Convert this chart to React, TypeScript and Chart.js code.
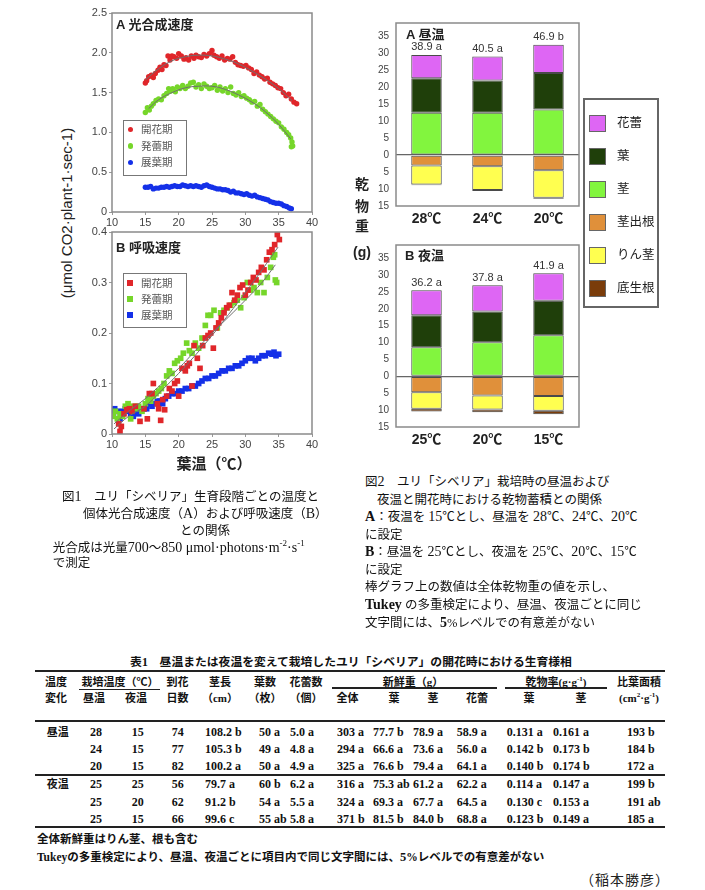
import React, { useEffect, useRef } from 'react';
import { Chart, registerables } from 'chart.js';
Chart.register(...registerables);

const SANS = '"Liberation Sans", Arial, "Noto Sans CJK JP", sans-serif';
const SERIF = '"Liberation Serif", "Times New Roman", "Noto Sans CJK JP", serif';
Chart.defaults.font.family = SANS;

// ---------- 図1 A 光合成速度 (x: 葉温, y: µmol CO2) ----------
const photoFlower = [
  [15.0, 1.62], [15.2, 1.65], [15.5, 1.70], [15.9, 1.72], [16.2, 1.69], [16.5, 1.74], [16.9, 1.78], [17.2, 1.82],
  [17.5, 1.79], [17.8, 1.85], [18.1, 1.84], [18.4, 1.96], [18.7, 1.91], [19.0, 1.96], [19.3, 1.95], [19.7, 1.93],
  [20.0, 1.99], [20.4, 1.96], [20.8, 1.92], [21.1, 1.94], [21.5, 1.91], [21.9, 1.96], [22.3, 1.93], [22.6, 1.97],
  [23.0, 1.95], [23.4, 1.94], [23.8, 1.98], [24.2, 1.96], [24.6, 1.99], [25.0, 2.03], [25.3, 1.97], [25.7, 1.95],
  [26.1, 1.93], [26.5, 1.96], [26.9, 1.91], [27.3, 1.93], [27.7, 1.92], [28.1, 1.95], [28.5, 1.88], [28.9, 1.85],
  [29.3, 1.84], [29.7, 1.83], [30.1, 1.84], [30.5, 1.81], [30.9, 1.79], [31.3, 1.74], [31.7, 1.76], [32.1, 1.72],
  [32.5, 1.70], [32.9, 1.67], [33.3, 1.68], [33.7, 1.63], [34.1, 1.61], [34.5, 1.59], [34.9, 1.56], [35.3, 1.55],
  [35.7, 1.50], [36.1, 1.46], [36.5, 1.48], [36.9, 1.42], [37.3, 1.38], [37.7, 1.36],
];
const photoBud = [
  [15.0, 1.25], [15.3, 1.31], [15.6, 1.28], [15.9, 1.33], [16.2, 1.36], [16.6, 1.40], [17.0, 1.42], [17.4, 1.41],
  [17.8, 1.46], [18.2, 1.49], [18.5, 1.55], [18.8, 1.52], [19.1, 1.55], [19.5, 1.51], [19.8, 1.57], [20.2, 1.55],
  [20.6, 1.59], [21.0, 1.55], [21.4, 1.58], [21.8, 1.62], [22.2, 1.63], [22.6, 1.57], [23.0, 1.60], [23.4, 1.55],
  [23.8, 1.61], [24.2, 1.58], [24.6, 1.55], [25.0, 1.56], [25.4, 1.59], [25.8, 1.53], [26.2, 1.57], [26.6, 1.52],
  [27.0, 1.55], [27.4, 1.50], [27.8, 1.57], [28.2, 1.49], [28.6, 1.47], [29.0, 1.50], [29.4, 1.45], [29.8, 1.46],
  [30.2, 1.43], [30.6, 1.41], [31.0, 1.38], [31.4, 1.39], [31.8, 1.33], [32.2, 1.35], [32.6, 1.29], [33.0, 1.26],
  [33.4, 1.23], [33.8, 1.20], [34.2, 1.17], [34.6, 1.14], [35.0, 1.12], [35.4, 1.07], [35.8, 1.04], [36.2, 1.00],
  [36.5, 0.97], [36.8, 0.93], [37.0, 0.88], [36.9, 0.82], [37.1, 0.83],
];
const photoLeaf = [
  [15.0, 0.31], [15.4, 0.31], [15.8, 0.32], [16.2, 0.29], [16.6, 0.30], [17.0, 0.30], [17.4, 0.31], [17.8, 0.31],
  [18.2, 0.32], [18.6, 0.31], [19.0, 0.32], [19.4, 0.33], [19.8, 0.32], [20.2, 0.32], [20.6, 0.34], [21.0, 0.33],
  [21.4, 0.32], [21.8, 0.33], [22.2, 0.32], [22.6, 0.33], [23.0, 0.32], [23.4, 0.31], [23.8, 0.33], [24.2, 0.34],
  [24.6, 0.32], [25.0, 0.31], [25.4, 0.30], [25.8, 0.29], [26.2, 0.29], [26.6, 0.28], [27.0, 0.28], [27.4, 0.27],
  [27.8, 0.25], [28.2, 0.26], [28.6, 0.24], [29.0, 0.24], [29.4, 0.23], [29.8, 0.22], [30.2, 0.23], [30.6, 0.21],
  [31.0, 0.20], [31.4, 0.21], [31.8, 0.19], [32.2, 0.18], [32.6, 0.17], [33.0, 0.16], [33.4, 0.15], [33.8, 0.13],
  [34.2, 0.12], [34.6, 0.11], [35.0, 0.11], [35.4, 0.10], [35.8, 0.08], [36.2, 0.07], [36.6, 0.05], [36.9, 0.04],
];
const photoFitFlower = [
  [15, 1.66], [17, 1.80], [19, 1.90], [21, 1.95], [23, 1.97], [25, 1.96], [27, 1.92], [29, 1.86], [31, 1.77], [33, 1.67], [35, 1.55], [37, 1.40],
];
const photoFitBud = [
  [15.5, 1.30], [17, 1.41], [19, 1.50], [21, 1.56], [23, 1.58], [25, 1.58], [27, 1.54], [29, 1.47], [31, 1.38], [33, 1.26], [35, 1.10], [36.8, 0.92],
];

// ---------- 図1 B 呼吸速度 ----------
const respFlower = [
  [11.0, 0.02], [11.2, 0.005], [11.4, 0.015], [11.8, 0.04], [12.2, 0.048], [12.6, 0.05], [13.0, 0.045], [13.5, 0.055],
  [14.2, 0.025], [14.8, 0.05], [15.3, 0.03], [15.6, 0.08], [16.0, 0.08], [16.2, 0.10], [16.8, 0.06], [17.0, 0.05],
  [17.3, 0.027], [17.6, 0.068], [17.9, 0.048], [18.2, 0.075], [18.6, 0.09], [19.0, 0.085], [19.4, 0.10], [19.8, 0.105],
  [20.0, 0.075], [20.5, 0.13], [21.0, 0.125], [21.3, 0.135], [21.6, 0.14], [22.0, 0.095], [22.3, 0.175], [22.8, 0.15],
  [23.2, 0.13], [23.6, 0.175], [24.0, 0.19], [24.4, 0.195], [24.8, 0.20], [25.2, 0.17], [25.6, 0.21], [26.0, 0.22],
  [26.4, 0.23], [26.8, 0.24], [27.2, 0.25], [27.6, 0.255], [28.0, 0.28], [28.4, 0.265], [28.8, 0.275], [29.2, 0.29],
  [29.6, 0.295], [30.0, 0.275], [30.4, 0.285], [30.8, 0.30], [31.2, 0.31], [31.6, 0.305], [32.0, 0.32], [32.4, 0.33],
  [32.8, 0.325], [33.2, 0.345], [33.6, 0.36], [34.0, 0.365], [34.4, 0.375], [34.8, 0.395], [35.1, 0.385],
];
const respBud = [
  [10.2, 0.035], [10.5, 0.045], [10.8, 0.03], [11.2, 0.04], [11.6, 0.035], [12.0, 0.055], [12.4, 0.06], [12.8, 0.03],
  [13.2, 0.055], [13.6, 0.05], [14.0, 0.055], [14.5, 0.045], [15.0, 0.06], [15.4, 0.07], [15.8, 0.065], [16.2, 0.075],
  [16.6, 0.08], [17.0, 0.085], [17.4, 0.09], [17.8, 0.10], [18.2, 0.115], [18.6, 0.125], [19.0, 0.12], [19.4, 0.14],
  [19.8, 0.145], [20.3, 0.15], [20.7, 0.16], [21.2, 0.18], [21.6, 0.165], [22.0, 0.16], [22.5, 0.18], [23.0, 0.17],
  [23.5, 0.19], [24.0, 0.215], [24.4, 0.235], [24.8, 0.235], [25.3, 0.245], [25.8, 0.21], [26.3, 0.24], [26.8, 0.245],
  [27.3, 0.25], [27.8, 0.255], [28.3, 0.26], [28.8, 0.265], [29.3, 0.25], [29.8, 0.27], [30.3, 0.30], [30.8, 0.285],
  [31.3, 0.29], [31.8, 0.28], [32.3, 0.30], [32.8, 0.28], [33.3, 0.31], [33.8, 0.33], [34.2, 0.35], [34.5, 0.305],
  [34.7, 0.30], [34.4, 0.355],
];
const respLeaf = [
  [10.2, 0.04], [10.4, 0.05], [10.8, 0.045], [11.2, 0.03], [11.6, 0.045], [12.0, 0.05], [12.4, 0.045], [12.8, 0.04],
  [13.2, 0.035], [13.6, 0.045], [14.0, 0.04], [14.4, 0.05], [14.8, 0.05], [15.2, 0.05], [15.6, 0.06], [16.0, 0.055],
  [16.4, 0.06], [16.8, 0.065], [17.2, 0.065], [17.6, 0.06], [18.0, 0.07], [18.5, 0.075], [19.0, 0.08], [19.5, 0.08],
  [20.0, 0.085], [20.5, 0.085], [21.0, 0.09], [21.5, 0.09], [22.0, 0.095], [22.5, 0.095], [23.0, 0.10], [23.5, 0.105],
  [24.0, 0.11], [24.5, 0.11], [25.0, 0.115], [25.5, 0.115], [26.0, 0.12], [26.5, 0.125], [27.0, 0.125], [27.5, 0.13],
  [28.0, 0.13], [28.5, 0.135], [29.0, 0.135], [29.5, 0.14], [30.0, 0.145], [30.5, 0.15], [31.0, 0.15], [31.5, 0.145],
  [32.0, 0.15], [32.5, 0.155], [33.0, 0.155], [33.5, 0.16], [34.0, 0.158], [34.3, 0.162], [34.6, 0.155], [35.0, 0.158],
];
const respFitFlower = [[10.3, 0.01], [12.5, 0.035], [15, 0.055], [17.5, 0.087], [20, 0.12], [22.5, 0.156], [25, 0.195], [27.5, 0.237], [30, 0.28], [32.5, 0.325], [34.9, 0.37]];
const respFitBud = [[10.3, 0.02], [12.5, 0.045], [15, 0.07], [17.5, 0.1], [20, 0.13], [22.5, 0.165], [25, 0.2], [27.5, 0.232], [30, 0.265], [32.5, 0.3], [34.5, 0.335]];

const stageNames = ['開花期', '発蕾期', '展葉期'];
const stageColors = ['#E0262A', '#76D62A', '#1430E8'];

// ---------- 図2 乾物重 ----------
const partNames = ['花蕾', '葉', '茎', '茎出根', 'りん茎', '底生根'];
const partColors = ['#DE66F4', '#1F3F0A', '#82F53E', '#E0903A', '#FFFF50', '#7A3C0A'];

const dayLabels = ['28℃', '24℃', '20℃'];
const dayBud = [6.9, 7.0, 8.3];
const dayLeaf = [10.1, 9.5, 10.8];
const dayStem = [12.5, 12.5, 13.4];
const dayStemRoot = [3.1, 3.3, 4.5];
const dayBulb = [5.6, 7.0, 8.1];
const dayBasalRoot = [0.2, 0.3, 0.3];
const dayTotals = ['38.9 a', '40.5 a', '46.9 b'];

const nightLabels = ['25℃', '20℃', '15℃'];
const nightBud = [7.4, 7.8, 8.1];
const nightLeaf = [9.5, 9.1, 10.2];
const nightStem = [8.6, 10.1, 12.2];
const nightStemRoot = [4.7, 5.7, 5.8];
const nightBulb = [4.9, 4.1, 4.4];
const nightBasalRoot = [0.8, 0.8, 1.0];
const nightTotals = ['36.2 a', '37.8 a', '41.9 a'];

// ---------- 表1 ----------
const tblGroup = ['昼温', '', '', '夜温', '', ''];
const tblDayT = ['28', '24', '20', '25', '25', '25'];
const tblNightT = ['15', '15', '15', '25', '20', '15'];
const tblDays = ['74', '77', '82', '56', '62', '66'];
const tblStemLen = ['108.2 b', '105.3 b', '100.2 a', '79.7 a', '91.2 b', '99.6 c'];
const tblLeafNum = ['50 a', '49 a', '50 a', '60 b', '54 a', '55 ab'];
const tblBudNum = ['5.0 a', '4.8 a', '4.9 a', '6.2 a', '5.5 a', '5.8 a'];
const tblFwTotal = ['303 a', '294 a', '325 a', '316 a', '324 a', '371 b'];
const tblFwLeaf = ['77.7 b', '66.6 a', '76.6 b', '75.3 ab', '69.3 a', '81.5 b'];
const tblFwStem = ['78.9 a', '73.6 a', '79.4 a', '61.2 a', '67.7 a', '84.0 b'];
const tblFwBud = ['58.9 a', '56.0 a', '64.1 a', '62.2 a', '64.5 a', '68.8 a'];
const tblDmLeaf = ['0.131 a', '0.142 b', '0.140 b', '0.114 a', '0.130 c', '0.123 b'];
const tblDmStem = ['0.161 a', '0.173 b', '0.174 b', '0.147 a', '0.153 a', '0.149 a'];
const tblSla = ['193 b', '184 b', '172 a', '199 b', '191 ab', '185 a'];

const boxPlugin = {
  id: 'box',
  afterDraw(chart: any, _a: any, opts: any) {
    const { ctx, chartArea } = chart;
    ctx.save();
    ctx.strokeStyle = opts.color || '#888';
    ctx.lineWidth = opts.width || 1.5;
    ctx.strokeRect(chartArea.left, chartArea.top, chartArea.right - chartArea.left, chartArea.bottom - chartArea.top);
    ctx.restore();
  },
};

const totalsPlugin = {
  id: 'totals',
  afterDatasetsDraw(chart: any, _a: any, opts: any) {
    if (!opts.labels) return;
    const { ctx } = chart;
    const meta = chart.getDatasetMeta(opts.topIndex);
    ctx.save();
    ctx.font = '11px ' + SANS;
    ctx.fillStyle = '#333';
    ctx.textAlign = 'center';
    ctx.textBaseline = 'bottom';
    meta.data.forEach((el: any, i: number) => ctx.fillText(opts.labels[i], el.x, el.y - 2));
    ctx.restore();
  },
};

const toXY = (pts: number[][]) => pts.map(([x, y]) => ({ x, y }));

function scatterConfig(series: number[][][], fits: number[][][], yMax: number, yStep: number, padTop: number, xH: number, style: string, radius: number, fmt: (v: number) => string) {
  const datasets: any[] = [];
  fits.forEach((f) => datasets.push({
    data: toXY(f), showLine: true, tension: 0.4, pointRadius: 0, borderColor: '#6f6f6f', borderWidth: 1, order: 0,
  }));
  series.forEach((s, i) => datasets.push({
    data: toXY(s), pointStyle: style, pointRadius: radius, pointBorderWidth: 0,
    backgroundColor: stageColors[i], borderColor: stageColors[i], order: 1 + i,
  }));
  return {
    type: 'scatter',
    data: { datasets },
    options: {
      responsive: false, animation: false, devicePixelRatio: 1,
      layout: { padding: { left: 0, right: 18, top: padTop, bottom: 0 } },
      plugins: { legend: { display: false }, tooltip: { enabled: false }, box: { color: '#8a8a8a', width: 1.5 } },
      scales: {
        x: {
          type: 'linear', min: 10, max: 40,
          ticks: { stepSize: 5, color: '#444', font: { size: 11 }, padding: 1, maxRotation: 0 },
          grid: { drawOnChartArea: false, drawTicks: true, tickLength: 3, color: '#999' },
          border: { display: false },
          afterFit: (s: any) => { s.height = xH; },
        },
        y: {
          min: 0, max: yMax,
          ticks: { stepSize: yStep, color: '#444', font: { size: 11 }, padding: 2, callback: (v: any) => fmt(Number(v)) },
          grid: { drawOnChartArea: false, drawTicks: true, tickLength: 3, color: '#999' },
          border: { display: false },
          afterFit: (s: any) => { s.width = 32; },
        },
      },
    },
    plugins: [boxPlugin],
  } as any;
}

function barConfig(labels: string[], bud: number[], leaf: number[], stem: number[], stemRoot: number[], bulb: number[], basal: number[], totals: string[], padTop: number) {
  const mk = (data: number[], ci: number) => ({
    label: partNames[ci], data, backgroundColor: partColors[ci], borderColor: '#4a4a4a', borderWidth: 1,
    borderSkipped: false, barPercentage: 0.5, categoryPercentage: 1,
  });
  const neg = (a: number[]) => a.map((v) => -v);
  return {
    type: 'bar',
    data: {
      labels,
      datasets: [mk(stem, 2), mk(leaf, 1), mk(bud, 0), mk(neg(stemRoot), 3), mk(neg(bulb), 4), mk(neg(basal), 5)],
    },
    options: {
      responsive: false, animation: false, devicePixelRatio: 1,
      layout: { padding: { left: 0, right: 6, top: padTop, bottom: 0 } },
      plugins: { legend: { display: false }, tooltip: { enabled: false }, box: { color: '#8a8a8a', width: 1.5 }, totals: { labels: totals, topIndex: 2 } },
      scales: {
        x: {
          stacked: true,
          grid: { display: false, drawTicks: false },
          border: { display: false },
          ticks: { color: '#222', font: { size: 14, weight: 'bold' }, padding: 5 },
          afterFit: (s: any) => { s.height = 26; },
        },
        y: {
          stacked: true, min: -15, max: 38.9,
          ticks: { stepSize: 5, includeBounds: false, color: '#444', font: { size: 10 }, padding: 7, callback: (v: any) => String(Math.abs(Number(v))) },
          afterBuildTicks: (s: any) => { s.ticks = s.ticks.filter((t: any) => Math.abs(t.value % 5) < 1e-6); },
          grid: { drawTicks: false, lineWidth: 1.2, color: (c: any) => (c.tick && c.tick.value === 0 ? '#666' : 'rgba(0,0,0,0)') },
          border: { display: false },
          afterFit: (s: any) => { s.width = 56; },
        },
      },
    },
    plugins: [boxPlugin, totalsPlugin],
  } as any;
}

type TP = { x: number; y: number; a?: 'l' | 'c' | 'r'; s?: number; w?: number | string; f?: string; c?: string; children?: any; st?: any };
const T = ({ x, y, a = 'l', s = 12.5, w = 400, f = SERIF, c = '#111', children, st }: TP) => (
  <div
    style={{
      position: 'absolute', left: x, top: y,
      transform: a === 'c' ? 'translate(-50%,-50%)' : a === 'r' ? 'translate(-100%,-50%)' : 'translateY(-50%)',
      fontSize: s, fontWeight: w as any, fontFamily: f, color: c, whiteSpace: 'nowrap', lineHeight: 1, ...st,
    }}
  >
    {children}
  </div>
);
// Latin run in captions (Times is set larger than the CJK glyphs in the original)
const L = ({ children, b }: { children: any; b?: boolean }) => (
  <span style={{ fontSize: 14, fontWeight: b ? 'bold' : 'normal' }}>{children}</span>
);

const HLine = ({ x1, x2, y, t = 2 }: { x1: number; x2: number; y: number; t?: number }) => (
  <div style={{ position: 'absolute', left: x1, top: y - t / 2, width: x2 - x1, height: t, background: '#222' }} />
);

export default function App() {
  const r1 = useRef<HTMLCanvasElement>(null);
  const r2 = useRef<HTMLCanvasElement>(null);
  const r3 = useRef<HTMLCanvasElement>(null);
  const r4 = useRef<HTMLCanvasElement>(null);

  useEffect(() => {
    const charts = [
      new Chart(r1.current as any, scatterConfig([photoFlower, photoBud, photoLeaf], [photoFitFlower, photoFitBud], 2.5, 0.5, 13, 20, 'circle', 2.7,
        (v) => (v === 0 ? '0' : v.toFixed(1)))),
      new Chart(r2.current as any, scatterConfig([respFlower, respBud, respLeaf], [respFitFlower, respFitBud], 0.4, 0.1, 12, 26, 'rect', 4,
        (v) => (v === 0 ? '0' : v.toFixed(1)))),
      new Chart(r3.current as any, barConfig(dayLabels, dayBud, dayLeaf, dayStem, dayStemRoot, dayBulb, dayBasalRoot, dayTotals, 23)),
      new Chart(r4.current as any, barConfig(nightLabels, nightBud, nightLeaf, nightStem, nightStemRoot, nightBulb, nightBasalRoot, nightTotals, 11)),
    ];
    return () => charts.forEach((c) => c.destroy());
  }, []);

  const cv = (left: number, top: number) => ({ position: 'absolute' as const, left, top });

  const colX = [46.7, 90, 131.7, 171.7, 205, 259, 290, 337, 373, 413, 456.7, 506.7, 553, 627];
  const cols = [tblGroup, tblDayT, tblNightT, tblDays, tblStemLen, tblLeafNum, tblBudNum, tblFwTotal, tblFwLeaf, tblFwStem, tblFwBud, tblDmLeaf, tblDmStem, tblSla];
  const rowY = [731.7, 749, 766, 784, 801.5, 818.5];
  const TB = (p: TP) => <T s={12} w="bold" {...p} />;
  const TJ = (p: TP) => <T s={11} w="bold" {...p} />;

  return (
    <div style={{ position: 'relative', width: 705, height: 890, background: '#fff', overflow: 'hidden' }}>
      <style>{'body{margin:0}'}</style>

      {/* 図1 */}
      <canvas ref={r1} width={250} height={232} style={cv(80, 0)} />
      <canvas ref={r2} width={250} height={240} style={cv(80, 220)} />
      <T x={116} y={24} s={13} w="bold" f={SANS} c="#222">A 光合成速度</T>
      <T x={116} y={247} s={13} w="bold" f={SANS} c="#222">B 呼吸速度</T>
      <T x={66} y={213} a="c" s={15} f={SANS} c="#222" st={{ transform: 'translate(-50%,-50%) rotate(-90deg)' }}>(μmol CO2·plant-1·sec-1)</T>
      <T x={214} y={463} a="c" s={15} w="bold" f={SANS} c="#222">葉温（℃）</T>
      <div style={{ position: 'absolute', left: 123, top: 120, width: 62, height: 54, border: '1px solid #777' }} />
      {stageNames.map((n, i) => (
        <React.Fragment key={'a' + n}>
          <div style={{ position: 'absolute', left: 127.5, top: 126.5 + i * 16.5, width: 5.5, height: 5.5, borderRadius: 3, background: stageColors[i] }} />
          <T x={141} y={129.3 + i * 16.5} s={10.5} f={SANS} c="#555">{n}</T>
        </React.Fragment>
      ))}
      <div style={{ position: 'absolute', left: 123, top: 273, width: 62, height: 53, border: '1px solid #777' }} />
      {stageNames.map((n, i) => (
        <React.Fragment key={'b' + n}>
          <div style={{ position: 'absolute', left: 126.5, top: 279.5 + i * 16, width: 6, height: 6, background: stageColors[i] }} />
          <T x={141} y={282.5 + i * 16} s={10.5} f={SANS} c="#555">{n}</T>
        </React.Fragment>
      ))}

      {/* 図2 */}
      <canvas ref={r3} width={245} height={232} style={cv(340, 0)} />
      <canvas ref={r4} width={245} height={221} style={cv(340, 232)} />
      <T x={406} y={33.5} s={13} w="bold" f={SANS} c="#222">A 昼温</T>
      <T x={405} y={255} s={13} w="bold" f={SANS} c="#222">B 夜温</T>
      <T x={362} y={184} a="c" s={14} w="bold" f={SANS} c="#222">乾</T>
      <T x={362} y={205.5} a="c" s={14} w="bold" f={SANS} c="#222">物</T>
      <T x={362} y={226} a="c" s={14} w="bold" f={SANS} c="#222">重</T>
      <T x={362} y={251.5} a="c" s={14} w="bold" f={SANS} c="#222">(g)</T>
      <div style={{ position: 'absolute', left: 583, top: 98, width: 72, height: 206, border: '2px solid #666' }} />
      {partNames.map((n, i) => (
        <React.Fragment key={'p' + n}>
          <div style={{ position: 'absolute', left: 589, top: 114.5 + i * 33.1, width: 15, height: 15, background: partColors[i], border: '1px solid #666' }} />
          <T x={617} y={122.7 + i * 33.1} s={12.5} f={SANS} c="#222">{n}</T>
        </React.Fragment>
      ))}

      {/* 図1 caption */}
      <T x={62} y={497}>図<L>1</L>　ユリ「シベリア」生育段階ごとの温度と</T>
      <T x={83} y={514}>個体光合成速度（<L>A</L>）および呼吸速度（<L>B</L>）</T>
      <T x={180} y={530.5}>との関係</T>
      <T x={52.7} y={546.5}>光合成は光量<L>700</L>～<L>850 μmol·photons·m</L><sup style={{ fontSize: 9 }}>-2</sup><L>·s</L><sup style={{ fontSize: 9 }}>-1</sup></T>
      <T x={52.7} y={562.5}>で測定</T>

      {/* 図2 caption */}
      <T x={365} y={482}>図<L>2</L>　ユリ「シベリア」栽培時の昼温および</T>
      <T x={377} y={499.5}>夜温と開花時における乾物蓄積との関係</T>
      <T x={365} y={517}><L b>A</L>：夜温を <L>15</L>℃とし、昼温を <L>28</L>℃、<L>24</L>℃、<L>20</L>℃</T>
      <T x={365} y={534.5}>に設定</T>
      <T x={365} y={552}><L b>B</L>：昼温を <L>25</L>℃とし、夜温を <L>25</L>℃、<L>20</L>℃、<L>15</L>℃</T>
      <T x={365} y={569.5}>に設定</T>
      <T x={365} y={587}>棒グラフ上の数値は全体乾物重の値を示し、</T>
      <T x={365} y={605}><L b>Tukey</L> の多重検定により、昼温、夜温ごとに同じ</T>
      <T x={365} y={622.5}>文字間には、<L b>5</L>%レベルでの有意差がない</T>

      {/* 表1 */}
      <T x={351} y={663} a="c" s={11.8} w="bold">表1　昼温または夜温を変えて栽培したユリ「シベリア」の開花時における生育様相</T>
      <HLine x1={35} x2={665} y={671} />
      <HLine x1={79} x2={160} y={689.5} t={1.2} />
      <HLine x1={332} x2={497} y={688} t={1.2} />
      <HLine x1={505} x2={607} y={688} t={1.2} />
      <HLine x1={35} x2={665} y={721} />
      <HLine x1={35} x2={665} y={775} />
      <HLine x1={35} x2={665} y={827} />

      <TJ x={56} y={681.7} a="c">温度</TJ>
      <TJ x={120} y={681.7} a="c">栽培温度（℃）</TJ>
      <TJ x={177.5} y={681.7} a="c">到花</TJ>
      <TJ x={220} y={681.7} a="c">茎長</TJ>
      <TJ x={265} y={681.7} a="c">葉数</TJ>
      <TJ x={306} y={681.7} a="c">花蕾数</TJ>
      <TJ x={413} y={681.7} a="c">新鮮重（g）</TJ>
      <TJ x={556} y={681.7} a="c">乾物率(g·g<sup style={{ fontSize: 7 }}>-1</sup>)</TJ>
      <TJ x={639} y={681.7} a="c">比葉面積</TJ>

      <TJ x={56} y={698.3} a="c">変化</TJ>
      <TJ x={94} y={698.3} a="c">昼温</TJ>
      <TJ x={136} y={698.3} a="c">夜温</TJ>
      <TJ x={177.5} y={698.3} a="c">日数</TJ>
      <TJ x={220} y={698.3} a="c">（cm）</TJ>
      <TJ x={265} y={698.3} a="c">（枚）</TJ>
      <TJ x={306} y={698.3} a="c">（個）</TJ>
      <TJ x={347.5} y={698.3} a="c">全体</TJ>
      <TJ x={394} y={698.3} a="c">葉</TJ>
      <TJ x={433} y={698.3} a="c">茎</TJ>
      <TJ x={477} y={698.3} a="c">花蕾</TJ>
      <TJ x={529} y={698.3} a="c">葉</TJ>
      <TJ x={581} y={698.3} a="c">茎</TJ>
      <TJ x={639} y={698.3} a="c">(cm<sup style={{ fontSize: 7 }}>2</sup>·g<sup style={{ fontSize: 7 }}>-1</sup>)</TJ>

      {cols.map((col, ci) => col.map((v, ri) => (
        ci === 0
          ? <TJ key={ci + '-' + ri} x={colX[ci]} y={rowY[ri]}>{v}</TJ>
          : <TB key={ci + '-' + ri} x={colX[ci]} y={rowY[ri]}>{v}</TB>
      )))}

      <T x={37} y={840} s={11.5} w="bold">全体新鮮重はりん茎、根も含む</T>
      <T x={37} y={857} s={11.5} w="bold">Tukeyの多重検定により、昼温、夜温ごとに項目内で同じ文字間には、<span style={{ fontSize: 12.5 }}>5</span>%レベルでの有意差がない</T>
      <T x={580} y={880} s={14} f={SANS} c="#222" st={{ letterSpacing: 1 }}>（稲本勝彦）</T>
    </div>
  );
}
